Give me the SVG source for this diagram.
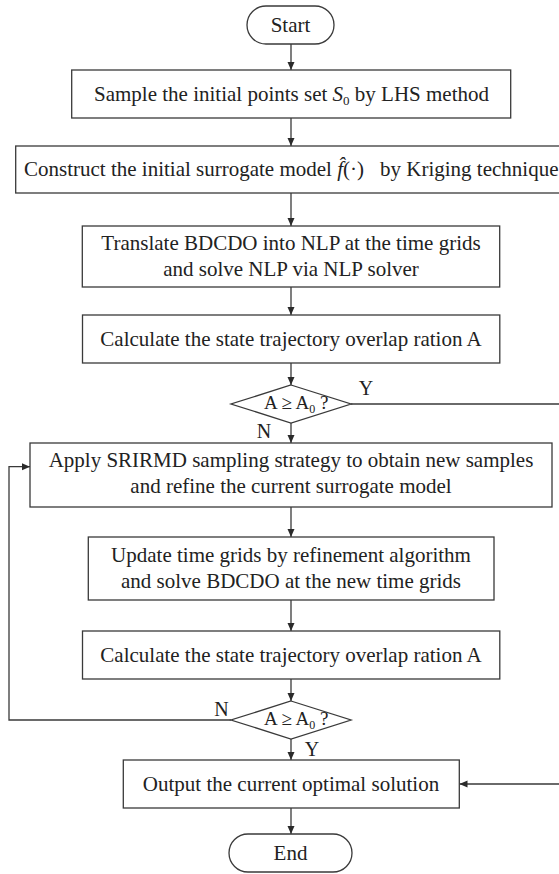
<svg xmlns="http://www.w3.org/2000/svg" width="559" height="874" viewBox="0 0 559 874">
<style>
  .box { fill: #ffffff; stroke: #3a3a3a; stroke-width: 1.3; }
  .t { font-family: "Liberation Serif", "Times New Roman", serif; font-size: 21px; fill: #222; }
  .dt { font-family: "Liberation Serif", "Times New Roman", serif; font-size: 19px; fill: #222; }
  .lbl { font-family: "Liberation Serif", "Times New Roman", serif; font-size: 20px; fill: #222; }
  .c { fill: none; stroke: #3a3a3a; stroke-width: 1.3; }
</style>
<defs>
  <marker id="ah" markerWidth="8" markerHeight="8" refX="8" refY="4" orient="auto" markerUnits="userSpaceOnUse">
    <path d="M0,0.5 L8,4 L0,7.5 Z" fill="#2a2a2a"/>
  </marker>
</defs>
<rect width="559" height="874" fill="#ffffff"/>

<g id="connectors">
  <line class="c" x1="291" y1="44" x2="291" y2="70" marker-end="url(#ah)"/>
  <line class="c" x1="291" y1="118" x2="291" y2="146" marker-end="url(#ah)"/>
  <line class="c" x1="291" y1="193" x2="291" y2="226" marker-end="url(#ah)"/>
  <line class="c" x1="291" y1="287" x2="291" y2="315" marker-end="url(#ah)"/>
  <line class="c" x1="291" y1="363" x2="291" y2="385" marker-end="url(#ah)"/>
  <line class="c" x1="291" y1="423" x2="291" y2="443" marker-end="url(#ah)"/>
  <line class="c" x1="291" y1="507" x2="291" y2="537" marker-end="url(#ah)"/>
  <line class="c" x1="291" y1="600" x2="291" y2="631" marker-end="url(#ah)"/>
  <line class="c" x1="291" y1="679" x2="291" y2="701" marker-end="url(#ah)"/>
  <line class="c" x1="291" y1="739" x2="291" y2="760" marker-end="url(#ah)"/>
  <line class="c" x1="291" y1="808" x2="291" y2="834" marker-end="url(#ah)"/>
  <polyline class="c" points="351,404 563,404 563,784 459.5,784" marker-end="url(#ah)"/>
  <polyline class="c" points="231,720 9,720 9,466.7 30,466.7" marker-end="url(#ah)"/>
  <text class="lbl" x="366" y="395" text-anchor="middle">Y</text>
  <text class="lbl" x="264" y="438" text-anchor="middle">N</text>
  <text class="lbl" x="221.5" y="716" text-anchor="middle">N</text>
  <text class="lbl" x="312" y="756" text-anchor="middle">Y</text>
</g>

<g id="start">
  <rect class="box" x="247" y="6" width="87" height="38" rx="19" ry="19"/>
  <text class="t" x="290.5" y="32" text-anchor="middle">Start</text>
</g>

<g id="sample">
  <rect class="box" x="71.7" y="70" width="439" height="48"/>
  <text class="t" x="291.5" y="101" text-anchor="middle">Sample the initial points set <tspan font-style="italic">S</tspan><tspan font-size="13" dy="4">0</tspan><tspan dy="-4"> by LHS method</tspan></text>
</g>

<g id="construct">
  <rect class="box" x="15.7" y="146" width="551" height="47"/>
  <text class="t" x="24" y="176">Construct the initial surrogate model <tspan font-style="italic">f&#x0302;</tspan>(·)<tspan x="380">by Kriging technique</tspan></text>
</g>

<g id="translate">
  <rect class="box" x="82.3" y="226" width="417.4" height="61"/>
  <text class="t" x="291" y="250" text-anchor="middle">Translate BDCDO into NLP at the time grids</text>
  <text class="t" x="291" y="276" text-anchor="middle">and solve NLP via NLP solver</text>
</g>

<g id="calc1">
  <rect class="box" x="82.5" y="315" width="417.3" height="48"/>
  <text class="t" x="291" y="346" text-anchor="middle">Calculate the state trajectory overlap ration A</text>
</g>

<g id="decision1">
  <polygon class="box" points="291,385 351,404 291,423 231,404"/>
  <text class="dt" x="264" y="409">A ≥ A<tspan font-size="12" dy="4">0</tspan><tspan dy="-4"> ?</tspan></text>
</g>

<g id="apply">
  <rect class="box" x="30" y="443" width="522" height="64"/>
  <text class="t" x="291" y="467" text-anchor="middle">Apply SRIRMD sampling strategy to obtain new samples</text>
  <text class="t" x="291" y="493" text-anchor="middle">and refine the current surrogate model</text>
</g>

<g id="update">
  <rect class="box" x="88.3" y="537" width="405.7" height="63"/>
  <text class="t" x="291" y="562" text-anchor="middle">Update time grids by refinement algorithm</text>
  <text class="t" x="291" y="588" text-anchor="middle">and solve BDCDO at the new time grids</text>
</g>

<g id="calc2">
  <rect class="box" x="82.5" y="631" width="417.3" height="48"/>
  <text class="t" x="291" y="662" text-anchor="middle">Calculate the state trajectory overlap ration A</text>
</g>

<g id="decision2">
  <polygon class="box" points="291,701 351,720 291,739 231,720"/>
  <text class="dt" x="264" y="725">A ≥ A<tspan font-size="12" dy="4">0</tspan><tspan dy="-4"> ?</tspan></text>
</g>

<g id="output">
  <rect class="box" x="123.3" y="760" width="336" height="48"/>
  <text class="t" x="291" y="791" text-anchor="middle">Output the current optimal solution</text>
</g>

<g id="end">
  <rect class="box" x="229" y="834" width="123" height="38" rx="19" ry="19"/>
  <text class="t" x="290.5" y="860" text-anchor="middle">End</text>
</g>
</svg>
